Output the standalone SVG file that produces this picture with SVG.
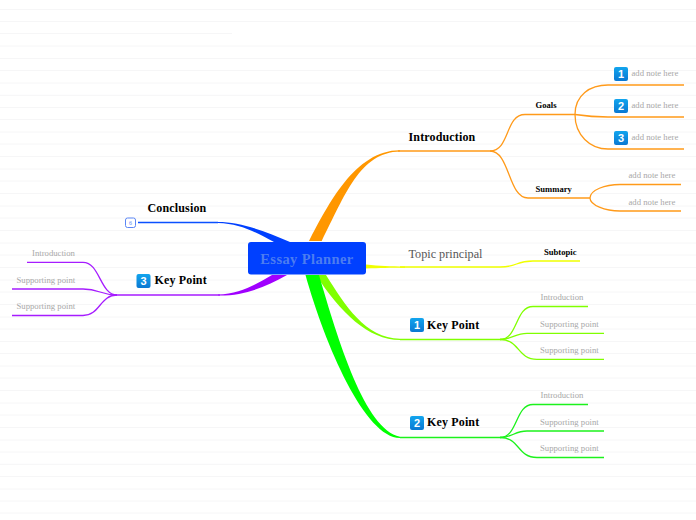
<svg xmlns="http://www.w3.org/2000/svg" width="696" height="520" viewBox="0 0 696 520">
<defs>
<linearGradient id="badge" x1="0" y1="0" x2="0" y2="1"><stop offset="0" stop-color="#12a5ee"/><stop offset="1" stop-color="#0a78d2"/></linearGradient>
<g id="b"><rect width="14" height="14" rx="2" fill="url(#badge)"/></g>
</defs>
<style>
text{font-family:"Liberation Serif","Times New Roman",serif}
.bg{stroke:#f6f6f7;stroke-width:1;fill:none}
.c{fill:none;stroke-width:1.3}
.t{font-size:12px;font-weight:bold;fill:#000;letter-spacing:.15px}
.s{font-size:8.6px;font-weight:bold;fill:#000}
.n{font-size:8.7px;fill:#a8a8a8}
.d{font-size:11px;font-weight:bold;fill:#fff;text-anchor:middle;font-family:"Liberation Sans",sans-serif}
</style>
<rect width="696" height="520" fill="#fff"/>
<g id="background-lines">
<path class="bg" d="M0 9.5H696M0 21.5H696M0 33.5H232M0 46H696M0 58.5H696M0 70.5H696M0 83H696M0 95.3H696M0 107.5H696M0 119.5H696M0 132H696M0 144H696M0 156.5H696M0 169H696M0 181H696M0 193.5H696M0 206H696M0 218H696M0 230.5H696M0 243H696M0 255H696M0 267.5H696M0 280H696M0 292H696M0 304.5H696M0 317H696M0 329H696M0 341.5H696M0 353.5H696M0 366H696M0 378H696M0 390.5H696M0 403H696M0 415H696M0 427.5H696M0 440H696M0 452H696M0 464.3H696M0 476.5H696M0 489H696M0 501H696M0 513H696"/>
</g>
<g id="connectors">
<path fill="#ff9700" d="M309 241C328 205 355 150 400 150.200V151.400C360 152 345 195 321.700 241Z"/>
<path fill="#0040ff" d="M218 222C240 222 262 230 290 242H274C255 232 240 223.500 218 223Z"/>
<path fill="#a000ff" d="M218 294.500C240 294 255 285 272 275H287C265 287 245 296 218 295.500Z"/>
<path fill="#80ff00" d="M326 275C345 305 365 338 400 338.700V340C368 340 340 312 316 275Z"/>
<path fill="#00ff00" d="M305.500 275C325 345 365 438 400 438V436.700C365 430 338 340 319 275Z"/>
<path fill="#f0ff00" d="M366 264.500C380 266 390 266.400 405 266.400V267.700C390 267.700 380 268 366 268.500Z"/>
<g class="c" stroke="#ff9a1a">
<path d="M398 151H490C510 151 505 114.500 525 114.500H575"/>
<path d="M490 151C510 151 508 198 528 198H590"/>
<path d="M575 114.500C575 95 590 85 608 85H684"/>
<path d="M575 114.500C585 116 595 117 608 117H684"/>
<path d="M575 114.500C575 135 590 149 608 149H684"/>
<path d="M590 198C590 190 605 184.500 620 184.500H681"/>
<path d="M590 198C590 205 605 211 620 211H681"/>
</g>
<path class="c" stroke="#f0ff00" d="M400 267H500C518 267 515 261 533 261H580"/>
<g class="c" stroke="#80ff00">
<path d="M400 339.500H500C518 339.500 515 306.500 533 306.500H588"/>
<path d="M500 339.500C512 339.500 515 333.300 527 333.300H604"/>
<path d="M500 339.500C520 339.500 517 359.300 537 359.300H604"/>
</g>
<g class="c" stroke="#1cf21c">
<path d="M400 437.500H500C518 437.500 515 404.500 533 404.500H588"/>
<path d="M500 437.500C512 437.500 515 431 527 431H604"/>
<path d="M500 437.500C520 437.500 517 457.500 537 457.500H604"/>
</g>
<path class="c" stroke="#0a50ff" d="M138 222.500H218"/>
<g class="c" stroke="#a61cff">
<path d="M220 295H117C100 295 100 262.300 83 262.300H27"/>
<path d="M117 295C100 295 100 289 83 289H12"/>
<path d="M117 295C100 295 100 315.500 83 315.500H12"/>
</g>
</g>
<g id="central"><rect x="248" y="242" width="118" height="32.500" rx="3" fill="#0040ff"/><text x="307" y="264" text-anchor="middle" font-size="14.500" font-weight="bold" fill="#4c7df0" letter-spacing=".4">Essay Planner</text></g>
<g id="introduction"><text class="t" x="408.500" y="141">Introduction</text></g>
<g id="goals"><text class="s" x="535.500" y="108">Goals</text></g>
<g id="summary"><text class="s" x="535.500" y="192">Summary</text></g>
<g id="note1"><use href="#b" x="614" y="67"/><text class="d" x="621" y="78">1</text><text class="n" x="631.500" y="76">add note here</text></g>
<g id="note2"><use href="#b" x="614" y="99"/><text class="d" x="621" y="110">2</text><text class="n" x="631.500" y="108">add note here</text></g>
<g id="note3"><use href="#b" x="614" y="131"/><text class="d" x="621" y="142">3</text><text class="n" x="631.500" y="140">add note here</text></g>
<g id="note4"><text class="n" x="628.500" y="178">add note here</text></g>
<g id="note5"><text class="n" x="628.500" y="205">add note here</text></g>
<g id="topic"><text x="408.500" y="257.500" font-size="12.200" fill="#555">Topic principal</text></g>
<g id="subtopic"><text class="s" x="544" y="255">Subtopic</text></g>
<g id="kp1"><use href="#b" x="410" y="318"/><text class="d" x="417" y="329">1</text><text class="t" x="427" y="329">Key Point</text></g>
<g id="kp1a"><text class="n" x="540.500" y="300">Introduction</text></g>
<g id="kp1b"><text class="n" x="540" y="327">Supporting point</text></g>
<g id="kp1c"><text class="n" x="540" y="353">Supporting point</text></g>
<g id="kp2"><use href="#b" x="410" y="416"/><text class="d" x="417" y="427">2</text><text class="t" x="427" y="426">Key Point</text></g>
<g id="kp2a"><text class="n" x="540.500" y="398">Introduction</text></g>
<g id="kp2b"><text class="n" x="540" y="425">Supporting point</text></g>
<g id="kp2c"><text class="n" x="540" y="451">Supporting point</text></g>
<g id="conclusion"><text class="t" x="147.500" y="212">Conclusion</text><rect x="125.500" y="218" width="10" height="9.500" rx="2" fill="#fff" stroke="#5b86f5"/><text x="130.500" y="225" text-anchor="middle" font-size="6" fill="#5b86f5" font-family="Liberation Sans">6</text></g>
<g id="kp3"><use href="#b" x="136.500" y="274"/><text class="d" x="143.500" y="285">3</text><text class="t" x="154.500" y="284">Key Point</text></g>
<g id="kp3a"><text class="n" x="32" y="256">Introduction</text></g>
<g id="kp3b"><text class="n" x="16.500" y="283">Supporting point</text></g>
<g id="kp3c"><text class="n" x="16.500" y="309">Supporting point</text></g>
</svg>
